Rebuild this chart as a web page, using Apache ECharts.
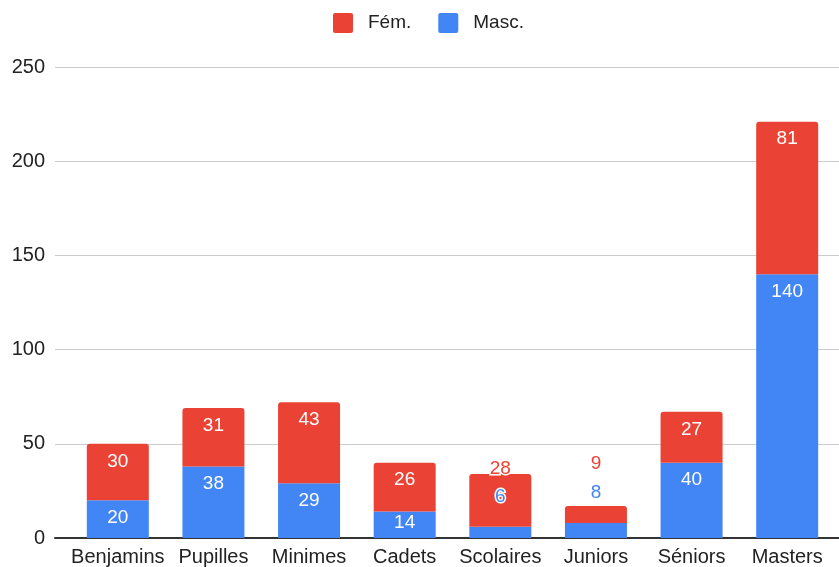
<!DOCTYPE html>
<html><head><meta charset="utf-8">
<script src="https://cdn.jsdelivr.net/npm/echarts@6/dist/echarts.min.js"></script>
<style>html,body{margin:0;padding:0;background:#fff}#c{width:839px;height:567px}</style>
</head><body><div id="c"></div>
<script>
const categories = ['Benjamins','Pupilles','Minimes','Cadets','Scolaires','Juniors','Séniors','Masters'];
const masc = [20, 38, 29, 14, 6, 8, 40, 140];
const fem = [30, 31, 43, 26, 28, 9, 27, 81];
const yTicks = [0, 50, 100, 150, 200, 250];

const RED = '#EA4335', BLUE = '#4285F4';
const FONT = 'Arial, "Liberation Sans", sans-serif';

// label placement for small segments (styling only)
const outsideMasc = { 'Scolaires': 20, 'Juniors': 21 };
const outsideFem = { 'Scolaires': -4, 'Juniors': 33 };

function mkData(vals, color, outside) {
  return vals.map((v, i) => {
    const c = categories[i];
    if (c in outside) {
      return { value: v, label: { position: 'top', distance: outside[c], color: color,
        textBorderColor: '#fff', textBorderWidth: 3 } };
    }
    if (v < 16) return { value: v, label: { position: 'insideTop', distance: 2 } };
    return v;
  });
}

const chart = echarts.init(document.getElementById('c'), null, { renderer: 'canvas' });
chart.setOption({
  animation: false,
  textStyle: { fontFamily: FONT },
  legend: {
    top: 8, left: 328, itemWidth: 20, itemHeight: 20, itemGap: 27,
    icon: 'path://M2,0 L18,0 Q20,0 20,2 L20,18 Q20,20 18,20 L2,20 Q0,20 0,18 L0,2 Q0,0 2,0 Z',
    textStyle: { fontSize: 19, color: '#222', fontFamily: FONT, padding: [0, 0, 0, 10] },
    data: ['Fém.', 'Masc.']
  },
  grid: [
    { left: 55, right: 0, top: 67, bottom: 29 },
    { left: 70, right: 4, top: 67, bottom: 29 }
  ],
  xAxis: [
    { gridIndex: 0, type: 'value', min: 0, max: 1, show: true,
      axisLine: { show: true, onZero: false, lineStyle: { color: '#333', width: 2 } },
      axisTick: { show: false }, axisLabel: { show: false }, splitLine: { show: false } },
    { gridIndex: 1, type: 'category', data: categories,
      axisLine: { show: false }, axisTick: { show: false },
      axisLabel: { fontSize: 20, color: '#222', margin: 9, fontFamily: FONT, interval: 0 } }
  ],
  yAxis: [
    { gridIndex: 0, type: 'value', min: 0, max: 250, interval: 50,
      axisLine: { show: false }, axisTick: { show: false },
      axisLabel: { fontSize: 20, color: '#222', margin: 10, fontFamily: FONT,
        formatter: v => yTicks.includes(v) ? String(v) : '' },
      splitLine: { lineStyle: { color: '#cccccc', width: 1 } } },
    { gridIndex: 1, type: 'value', min: 0, max: 250, interval: 50, show: false,
      splitLine: { show: false } }
  ],
  series: [
    { name: 'Masc.', type: 'bar', stack: 't', xAxisIndex: 1, yAxisIndex: 1,
      barWidth: 62, itemStyle: { color: BLUE },
      label: { show: true, position: 'insideTop', distance: 8, color: '#fff', fontSize: 19, fontFamily: FONT },
      data: mkData(masc, BLUE, outsideMasc) },
    { name: 'Fém.', type: 'bar', stack: 't', xAxisIndex: 1, yAxisIndex: 1,
      barWidth: 62, itemStyle: { color: RED, borderRadius: [3, 3, 0, 0] },
      label: { show: true, position: 'insideTop', distance: 8, color: '#fff', fontSize: 19, fontFamily: FONT },
      data: mkData(fem, RED, outsideFem) }
  ]
});
</script></body></html>
